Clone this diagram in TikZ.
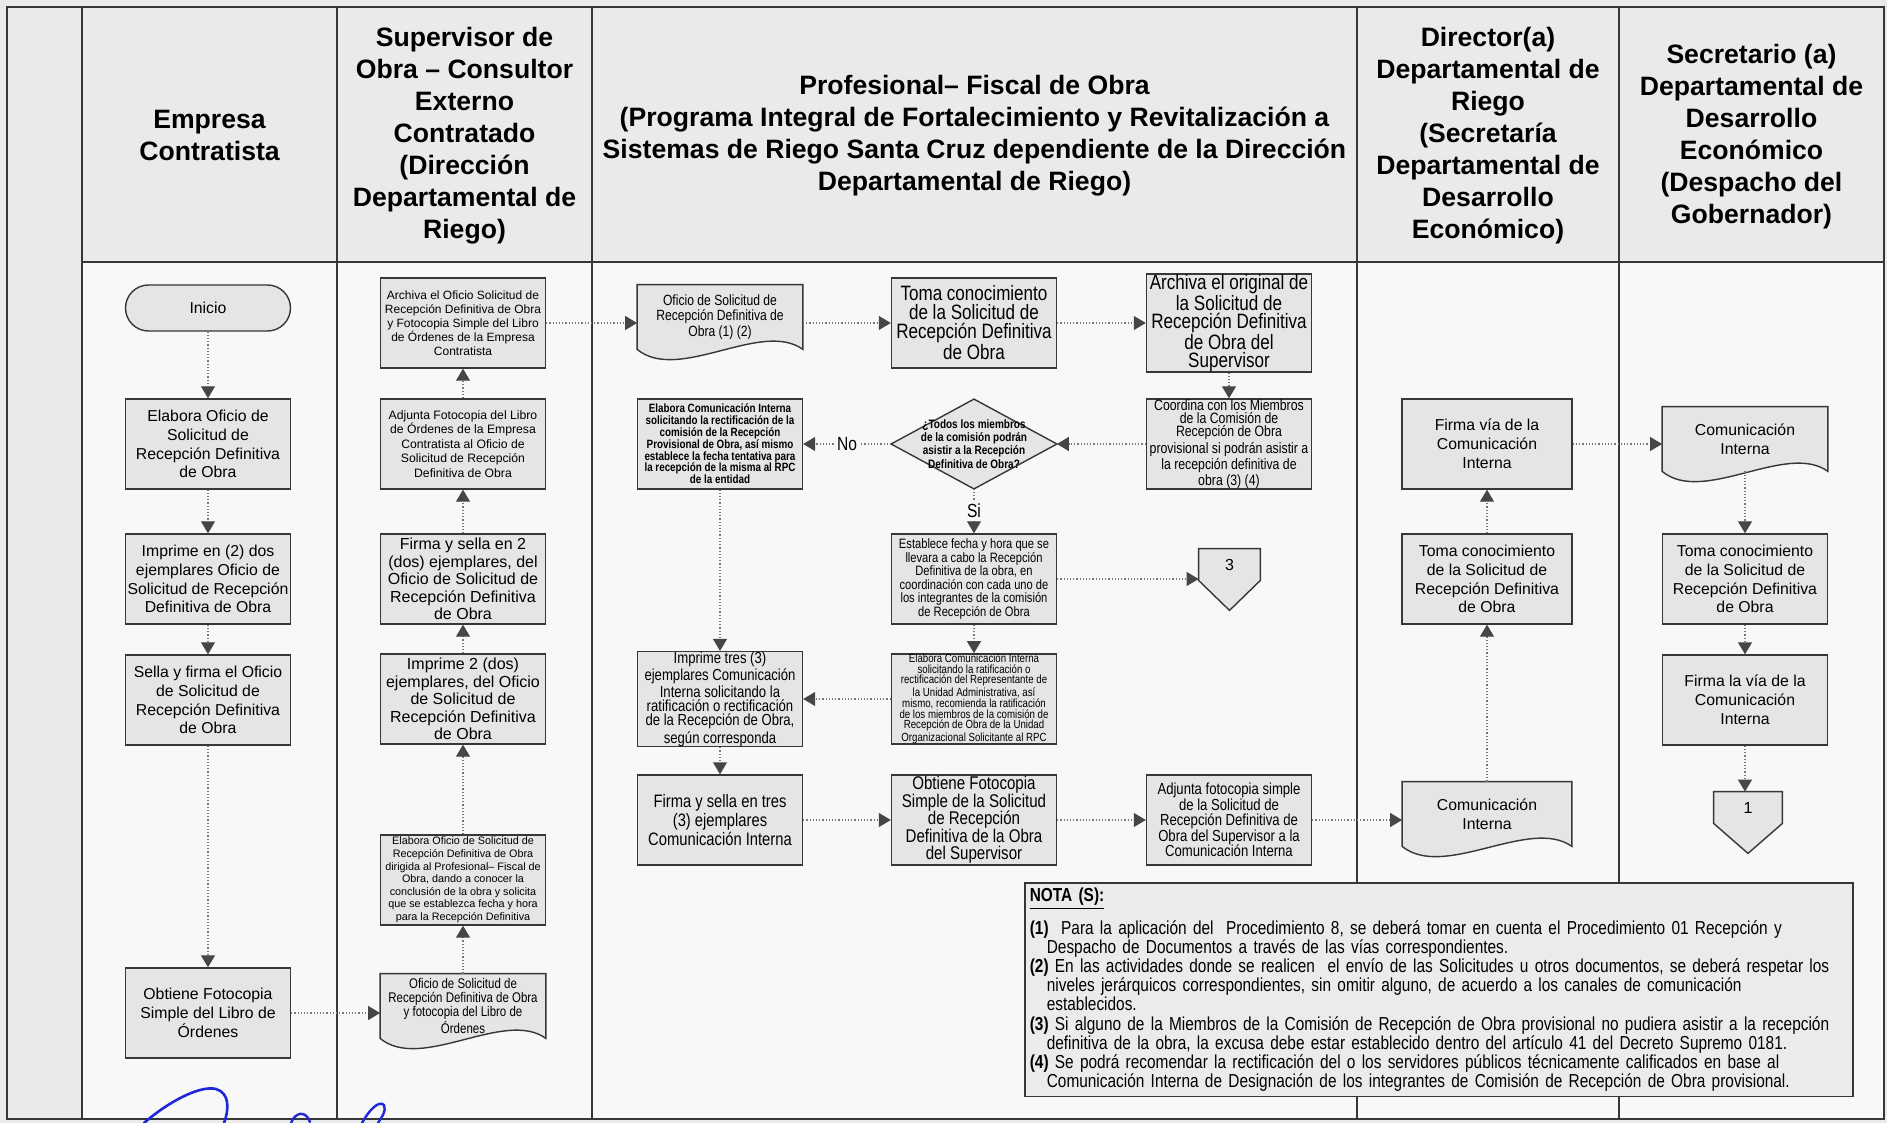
\documentclass[tikz,border=0pt]{standalone}
\usepackage{fontspec}
\setmainfont{Liberation Sans}
\newfontfamily\narrowsf[FakeStretch=0.82]{Liberation Sans}
\usepackage{xcolor}
\usepackage{tikz}
\usetikzlibrary{arrows.meta, positioning, calc, backgrounds}

\definecolor{pagegray}{RGB}{234,234,234}
\definecolor{bodywhite}{RGB}{248,248,248}
\definecolor{boxgray}{RGB}{229,229,229}
\definecolor{notegray}{RGB}{235,235,235}
\definecolor{lineblack}{RGB}{55,55,55}
\definecolor{flowgray}{RGB}{120,120,120}
\definecolor{tipgray}{RGB}{70,70,70}
\definecolor{inkblue}{RGB}{30,40,215}

\newcommand{\plaintxt}[2]{\fontsize{#1}{#2}\selectfont}
\newcommand{\narrowtxt}[2]{\narrowsf\fontsize{#1}{#2}\selectfont}

\begin{document}
\begin{tikzpicture}[
    x=0.5pt, y=-0.5pt,
    font=\plaintxt{7.9}{9.4},
    header/.style={align=center, font=\bfseries\plaintxt{13.3}{16}},
    task/.style={rectangle, draw=lineblack, fill=boxgray, line width=0.7pt, align=center, inner xsep=1pt, inner ysep=0pt, minimum width=82.5pt, minimum height=45pt},
    term/.style={task, rounded corners=11.5pt, minimum height=23pt},
    docu/.style={rectangle, align=center, inner sep=0pt, minimum width=82.5pt, minimum height=32pt},
    decision/.style={rectangle, align=center, inner sep=0pt, minimum width=82.5pt, minimum height=44.5pt},
    offpage/.style={rectangle, inner sep=0pt, minimum width=30.5pt, minimum height=15.5pt, font=\plaintxt{8}{9}},
    shapeline/.style={draw=lineblack, fill=boxgray, line width=0.7pt},
    flow/.style={draw=flowgray, densely dotted, line width=0.6pt, -{Triangle[length=6pt, width=7pt, color=tipgray]}},
    branch/.style={fill=bodywhite, inner sep=1pt, font=\narrowtxt{9.5}{10}},
    note/.style={rectangle, draw=lineblack, line width=0.8pt, fill=notegray, anchor=north west, text width=409pt, minimum height=106pt, align=left, inner sep=2.5pt, font=\narrowtxt{9.4}{9.6}},
    lane/.style={draw=lineblack, line width=0.8pt},
]

% Lane centres and row heights (pixel units, y downwards)
\def\ca{208}    % Empresa Contratista
\def\cb{463}    % Supervisor de Obra
\def\cc{720}    % Fiscal, first column
\def\cd{974}    % Fiscal, second column
\def\ce{1229}   % Fiscal, third column
\def\cf{1487}   % Director
\def\cg{1745}   % Secretario
\def\ra{323}
\def\rb{444}
\def\rc{579}
\def\rd{699}
\def\re{820}

\useasboundingbox (0,0) rectangle (1887,1123);

% Headers
\node[header] (hemp) at (209.5,135) {Empresa\\Contratista};
\node[header] (hsup) at (464.5,136) {Supervisor de\\Obra – Consultor\\Externo\\Contratado\\(Dirección\\Departamental de\\Riego)};
\node[header] (hfis) at (974.5,136) {Profesional– Fiscal de Obra\\(Programa Integral de Fortalecimiento y Revitalización a\\Sistemas de Riego Santa Cruz dependiente de la Dirección\\Departamental de Riego)};
\node[header] (hdir) at (1488,136) {Director(a)\\Departamental de\\Riego\\(Secretaría\\Departamental de\\Desarrollo\\Económico)};
\node[header] (hsec) at (1751.5,137) {Secretario (a)\\Departamental de\\Desarrollo\\Económico\\(Despacho del\\Gobernador)};

% Empresa Contratista
\node[term] (ini) at (\ca,308) {Inicio};
\node[task] (emp1) at (\ca,\rb) {Elabora Oficio de\\Solicitud de\\Recepción Definitiva\\de Obra};
\node[task] (emp2) at (\ca,\rc) {Imprime en (2) dos\\ejemplares Oficio de\\Solicitud de Recepción\\Definitiva de Obra};
\node[task] (emp3) at (\ca,700) {Sella y firma el Oficio\\de Solicitud de\\Recepción Definitiva\\de Obra};
\node[task] (emp4) at (\ca,1013) {Obtiene Fotocopia\\Simple del Libro de\\Órdenes};

% Supervisor de Obra
\node[docu, font=\narrowtxt{7}{7}] (sup1) at (\cb,1006) {Oficio de Solicitud de\\Recepción Definitiva de Obra\\y fotocopia del Libro de\\Órdenes};
\node[task, font=\plaintxt{5.4}{6.3}] (sup2) at (\cb,880) {Elabora Oficio de Solicitud de\\Recepción Definitiva de Obra\\dirigida al Profesional– Fiscal de\\Obra, dando a conocer la\\conclusión de la obra y solicita\\que se establezca fecha y hora\\para la Recepción Definitiva};
\node[task, font=\plaintxt{8}{8.8}] (sup3) at (\cb,\rd) {Imprime 2 (dos)\\ejemplares, del Oficio\\de Solicitud de\\Recepción Definitiva\\de Obra};
\node[task, font=\plaintxt{8}{8.8}] (sup4) at (\cb,\rc) {Firma y sella en 2\\(dos) ejemplares, del\\Oficio de Solicitud de\\Recepción Definitiva\\de Obra};
\node[task, font=\plaintxt{6.1}{7.3}] (sup5) at (\cb,\rb) {Adjunta Fotocopia del Libro\\de Órdenes de la Empresa\\Contratista al Oficio de\\Solicitud de Recepción\\Definitiva de Obra};
\node[task, font=\plaintxt{6}{7}] (sup6) at (\cb,\ra) {Archiva el Oficio Solicitud de\\Recepción Definitiva de Obra\\y Fotocopia Simple del Libro\\de Órdenes de la Empresa\\Contratista};

% Profesional - Fiscal de Obra
\node[docu, font=\narrowtxt{7.4}{7.6}] (fis1) at (\cc,317) {Oficio de Solicitud de\\Recepción Definitiva de\\Obra (1) (2)};
\node[task, font=\narrowtxt{10.4}{9.4}] (fis2) at (\cd,\ra) {Toma conocimiento\\de la Solicitud de\\Recepción Definitiva\\de Obra};
\node[task, font=\narrowtxt{10.4}{8.9}] (fis3) at (\ce,\ra) {Archiva el original de\\la Solicitud de\\Recepción Definitiva\\de Obra del\\Supervisor};
\node[decision, font=\narrowtxt{6.1}{5.5}\bfseries] (fis4) at (\cd,\rb) {¿Todos los miembros\\de la comisión podrán\\asistir a la Recepción\\Definitiva de Obra?};
\node[task, font=\narrowtxt{6}{5.9}\bfseries] (fis5) at (\cc,\rb) {Elabora Comunicación Interna\\solicitando la rectificación de la\\comisión de la Recepción\\Provisional de Obra, así mismo\\establece la fecha tentativa para\\la recepción de la misma al RPC\\de la entidad};
\node[task, font=\narrowtxt{7.5}{6.6}] (fis6) at (\ce,\rb) {Coordina con los Miembros\\de la Comisión de\\Recepción de Obra\\provisional si podrán asistir a\\la recepción definitiva de\\obra (3) (4)};
\node[task, font=\narrowtxt{6.8}{6.8}] (fis7) at (\cd,\rc) {Establece fecha y hora que se\\llevara a cabo la Recepción\\Definitiva de la obra, en\\coordinación con cada uno de\\los integrantes de la comisión\\de Recepción de Obra};
\node[offpage] (pg3) at (1229.5,564.5) {\raisebox{-3pt}{3}};
\node[task, font=\narrowtxt{5.9}{5.3}] (fis8) at (\cd,\rd) {Elabora Comunicación Interna\\solicitando la ratificación o\\rectificación del Representante de\\la Unidad Administrativa, así\\mismo, recomienda la ratificación\\de los miembros de la comisión de\\Recepción de Obra de la Unidad\\Organizacional Solicitante al RPC};
\node[task, font=\narrowtxt{8}{7.2}] (fis9) at (\cc,\rd) {Imprime tres (3)\\ejemplares Comunicación\\Interna solicitando la\\ratificación o rectificación\\de la Recepción de Obra,\\según corresponda};
\node[task, font=\narrowtxt{9}{9.5}] (fis10) at (\cc,\re) {Firma y sella en tres\\(3) ejemplares\\Comunicación Interna};
\node[task, font=\narrowtxt{9.2}{8.7}] (fis11) at (\cd,\re) {Obtiene Fotocopia\\Simple de la Solicitud\\de Recepción\\Definitiva de la Obra\\del Supervisor};
\node[task, font=\narrowtxt{8}{7.8}] (fis12) at (\ce,\re) {Adjunta fotocopia simple\\de la Solicitud de\\Recepción Definitiva de\\Obra del Supervisor a la\\Comunicación Interna};

% Director(a) Departamental de Riego
\node[docu, minimum width=84.5pt] (dir1) at (\cf,814) {Comunicación\\Interna};
\node[task, minimum width=85pt] (dir2) at (\cf,\rc) {Toma conocimiento\\de la Solicitud de\\Recepción Definitiva\\de Obra};
\node[task, minimum width=85pt] (dir3) at (\cf,\rb) {Firma vía de la\\Comunicación\\Interna};

% Secretario(a) Departamental de Desarrollo Economico
\node[docu] (sec1) at (\cg,439) {Comunicación\\Interna};
\node[task] (sec2) at (\cg,\rc) {Toma conocimiento\\de la Solicitud de\\Recepción Definitiva\\de Obra};
\node[task] (sec3) at (\cg,700) {Firma la vía de la\\Comunicación\\Interna};
\node[offpage, minimum width=34pt] (pg1) at (1748,807.5) {\raisebox{-3pt}{1}};

% Flow
\foreach \a/\b in {ini/emp1, emp1/emp2, emp2/emp3, emp3/emp4,
                   sup1/sup2, sup2/sup3, sup3/sup4, sup4/sup5, sup5/sup6,
                   fis2/fis3, fis3/fis6, fis6/fis4, fis7/fis8, fis8/fis9,
                   fis5/fis9, fis9/fis10, fis10/fis11, fis11/fis12,
                   dir1/dir2, dir2/dir3, sec1/sec2, sec2/sec3}
    \draw[flow] (\a) -- (\b);
\draw[flow] (emp4.east) -- (emp4.east -| sup1.west);
\draw[flow] (sup6.east) -- (sup6.east -| fis1.west);
\draw[flow] (fis2.west -| fis1.east) -- (fis2.west);
\draw[flow] (fis4) -- node[branch] {No} (fis5);
\draw[flow] (fis4) -- node[branch] {Si} (fis7);
\draw[flow] (fis7.east) -- (fis7.east -| pg3.west);
\draw[flow] (fis12.east) -- (fis12.east -| dir1.west);
\draw[flow] (dir3.east) -- (dir3.east -| sec1.west);
\draw[flow] (sec3.south) -- (sec3.south |- pg1.north);

% Notes
\node[note] (nota) at (1024,882) {\underline{\textbf{NOTA (S):}}\\[4.5pt]
\textbf{(1)}\ \ Para la aplicación del\ \ Procedimiento 8, se deberá tomar en cuenta el Procedimiento 01 Recepción y\\
\hspace*{8.5pt}Despacho de Documentos a través de las vías correspondientes.\\
\textbf{(2)} En las actividades donde se realicen\ \ el envío de las Solicitudes u otros documentos, se deberá respetar los\\
\hspace*{8.5pt}niveles jerárquicos correspondientes, sin omitir alguno, de acuerdo a los canales de comunicación\\
\hspace*{8.5pt}establecidos.\\
\textbf{(3)} Si alguno de la Miembros de la Comisión de Recepción de Obra provisional no pudiera asistir a la recepción\\
\hspace*{8.5pt}definitiva de la obra, la excusa debe estar establecido dentro del artículo 41 del Decreto Supremo 0181.\\
\textbf{(4)} Se podrá recomendar la rectificación del o los servidores públicos técnicamente calificados en base al\\
\hspace*{8.5pt}Comunicación Interna de Designación de los integrantes de Comisión de Recepción de Obra provisional.};

% Signature
\draw[inkblue, line width=1.3pt, line cap=round]
    (144,1123) .. controls (168,1102) and (200,1085) .. (216,1089)
    .. controls (230,1093) and (229,1110) .. (224,1123);
\draw[inkblue, line width=1.2pt, line cap=round]
    (291,1123) .. controls (295,1112) and (306,1110) .. (310,1122);
\draw[inkblue, line width=1.2pt, line cap=round]
    (362,1123) .. controls (369,1110) and (379,1100) .. (384,1105)
    .. controls (387,1111) and (381,1118) .. (378,1123);

% Lanes and shapes behind the text
\begin{scope}[on background layer]
    \fill[pagegray] (0,0) rectangle (1887,1123);
    \fill[bodywhite] (82,262) rectangle (1884,1119);
    \draw[lane, line width=1pt] (7,7) rectangle (1884,1119);
    \draw[lane] (82,262) -- (1884,262);
    \foreach \x in {82, 337, 592, 1357, 1619}
        \draw[lane] (\x,7) -- (\x,1119);
    \foreach \d in {sup1, fis1, dir1, sec1}
        \filldraw[shapeline] (\d.north west) -- (\d.north east) -- (\d.south east)
            .. controls ($(\d.south east)!0.5!(\d.south)+(0,-30)$) and ($(\d.south west)!0.5!(\d.south)+(0,34)$) .. (\d.south west) -- cycle;
    \filldraw[shapeline] (fis4.north) -- (fis4.east) -- (fis4.south) -- (fis4.west) -- cycle;
    \foreach \p in {pg1, pg3}
        \filldraw[shapeline] (\p.north west) -- (\p.north east) -- (\p.south east) -- ($(\p.south)+(0,30)$) -- (\p.south west) -- cycle;
\end{scope}

\end{tikzpicture}
\end{document}
